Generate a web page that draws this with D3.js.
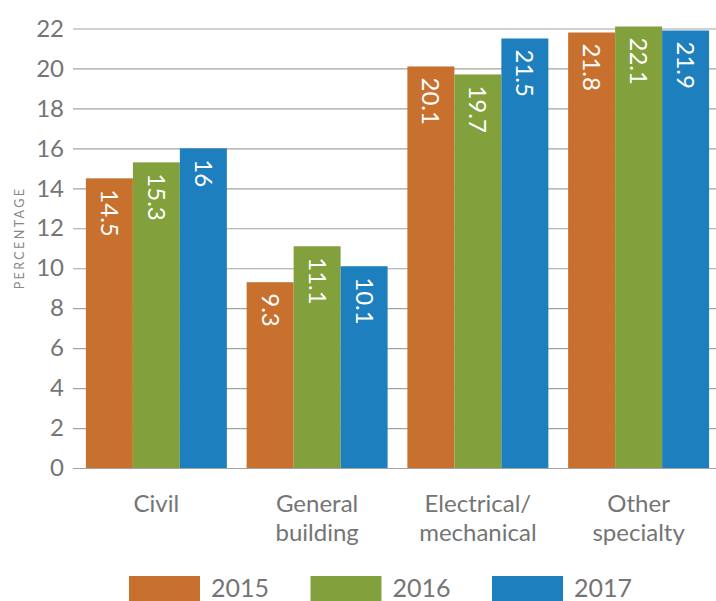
<!DOCTYPE html>
<html>
<head>
<meta charset="utf-8">
<script src="https://cdn.jsdelivr.net/npm/d3@7"></script>
<style>
  body { margin: 0; background: #fff; }
  svg { display: block; font-family: Lato, "Open Sans", sans-serif; }
</style>
</head>
<body>
<div id="chart"></div>
<script>
const categories = ["Civil", "General\nbuilding", "Electrical/\nmechanical", "Other\nspecialty"];
const years = ["2015", "2016", "2017"];
const values2015 = [14.5, 9.3, 20.1, 21.8];
const values2016 = [15.3, 11.1, 19.7, 22.1];
const values2017 = [16, 10.1, 21.5, 21.9];
const yTicks = [0, 2, 4, 6, 8, 10, 12, 14, 16, 18, 20, 22];
const colors = ["#c8702e", "#82a03c", "#1e7fbe"];

const seriesValues = [values2015, values2016, values2017];
const width = 716;
const height = 601;

const svg = d3
  .select("#chart")
  .append("svg")
  .attr("width", width)
  .attr("height", height);

// scales
const x0 = d3
  .scaleBand()
  .domain(categories)
  .range([76, 719])
  .paddingInner(0.123)
  .paddingOuter(0.0615);

const x1 = d3.scaleBand().domain(years).range([0, x0.bandwidth()]);

const y = d3.scaleLinear().domain([0, 22]).range([468, 28.5]);

const color = d3.scaleOrdinal().domain(years).range(colors);

// y axis + gridlines
const yAxis = svg
  .append("g")
  .attr("transform", "translate(73,0)")
  .call(d3.axisLeft(y).tickValues(yTicks).tickSize(-(width - 73)).tickPadding(9));
yAxis.select(".domain").remove();
yAxis.selectAll(".tick line").attr("stroke", "#a3a3a3").attr("stroke-width", 1.2);
yAxis
  .selectAll(".tick text")
  .attr("fill", "#757575")
  .style("font-size", "24px")
  .style("font-family", "Lato, sans-serif");

// axis title
svg
  .append("text")
  .attr("transform", "translate(24,238) rotate(-90)")
  .attr("text-anchor", "middle")
  .attr("fill", "#888")
  .style("font-size", "12.5px")
  .style("letter-spacing", "2.4px")
  .text("PERCENTAGE");

// bars
const rows = categories.map((c, i) => ({
  category: c,
  items: years.map((yr, j) => ({ year: yr, value: seriesValues[j][i] })),
}));

const group = svg
  .selectAll(".group")
  .data(rows)
  .enter()
  .append("g")
  .attr("class", "group")
  .attr("transform", (d) => `translate(${x0(d.category)},0)`);

group
  .selectAll("rect")
  .data((d) => d.items)
  .enter()
  .append("rect")
  .attr("x", (d) => x1(d.year))
  .attr("y", (d) => y(d.value))
  .attr("width", x1.bandwidth())
  .attr("height", (d) => y(0) - y(d.value))
  .attr("fill", (d) => color(d.year));

// value labels, rotated
group
  .selectAll(".val")
  .data((d) => d.items)
  .enter()
  .append("text")
  .attr("class", "val")
  .attr(
    "transform",
    (d) => `translate(${x1(d.year) + x1.bandwidth() / 2},${y(d.value) + 11}) rotate(90)`
  )
  .attr("dy", "0.35em")
  .attr("fill", "#fff")
  .style("font-size", "24px")
  .text((d) => d.value);

// x category labels, one text per line
const catLines = categories.flatMap((c) =>
  c.split("\n").map((line, i) => ({ category: c, line, i }))
);

svg
  .selectAll(".cat")
  .data(catLines)
  .enter()
  .append("text")
  .attr("class", "cat")
  .attr("x", (d) => x0(d.category) + x0.bandwidth() / 2)
  .attr("y", (d) => 512 + d.i * 29)
  .attr("text-anchor", "middle")
  .attr("fill", "#757575")
  .style("font-size", "24px")
  .text((d) => d.line);

// legend
const legendX = d3.scalePoint().domain(years).range([129, 129 + 2 * 181.5]);

const legend = svg
  .selectAll(".legend")
  .data(years)
  .enter()
  .append("g")
  .attr("class", "legend")
  .attr("transform", (d) => `translate(${legendX(d)},576)`);

legend
  .append("rect")
  .attr("width", 71)
  .attr("height", 30)
  .attr("fill", (d) => color(d));

legend
  .append("text")
  .attr("x", 82)
  .attr("y", 21)
  .attr("fill", "#757575")
  .style("font-size", "25px")
  .text((d) => d);
</script>
</body>
</html>
